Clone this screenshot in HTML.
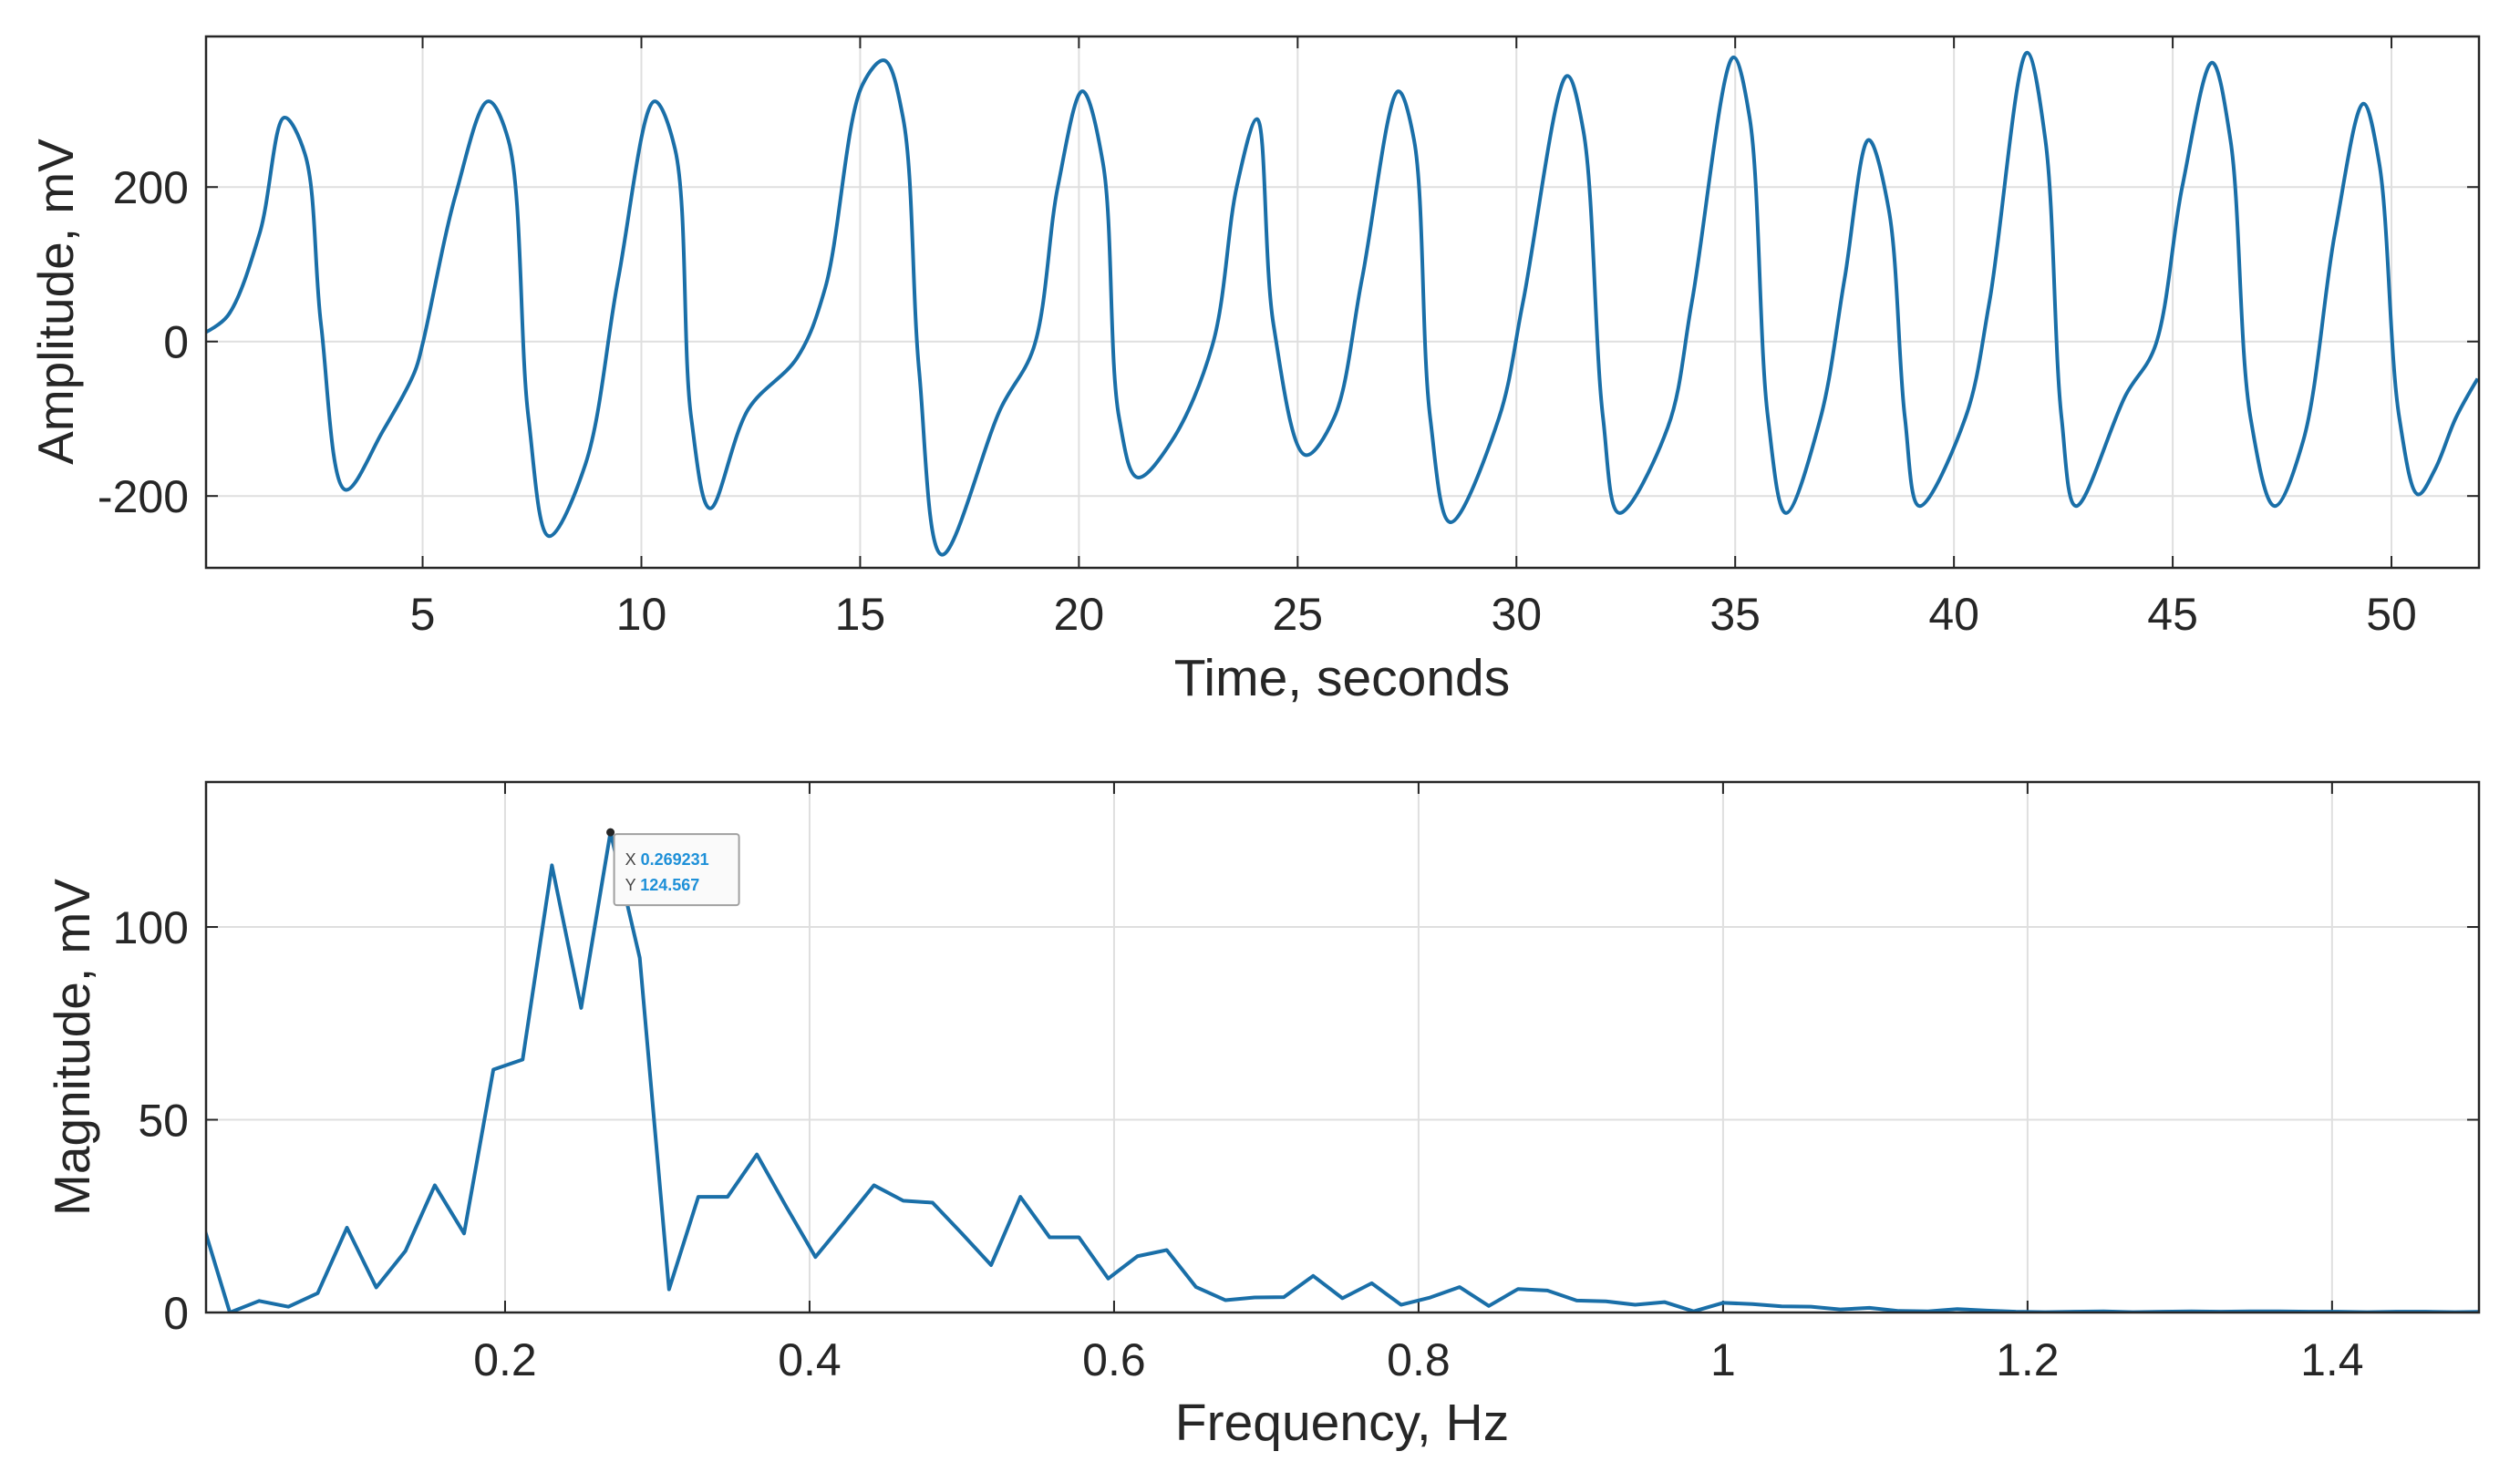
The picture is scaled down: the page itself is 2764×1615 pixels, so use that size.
<!DOCTYPE html>
<html><head><meta charset="utf-8"><style>
html,body{margin:0;padding:0;background:#fff;}
svg{display:block;}
text{font-family:"Liberation Sans",sans-serif;fill:#262626;}
</style></head><body>
<svg id="fig" width="2764" height="1615" viewBox="0 0 2764 1615" xmlns="http://www.w3.org/2000/svg"></svg>
<script>
// ---- Top chart data (time signal) ----
const timeS = [0.04,0.54,1.28,1.84,2.31,2.68,3.24,4.08,4.82,5.0,5.75,6.5,6.96,7.42,7.89,8.72,9.47,10.3,10.77,11.14,11.57,12.45,13.56,14.2,15.05,15.55,15.98,16.35,16.87,18.21,18.96,19.52,20.08,20.55,20.92,21.34,22.12,23.06,23.61,24.07,24.45,25.18,25.83,26.47,27.3,27.66,28.03,28.49,29.6,30.15,31.16,31.53,31.98,32.35,33.46,34.01,34.96,35.33,35.75,36.16,36.95,37.5,38.05,38.51,38.88,39.21,40.26,40.81,41.67,42.09,42.46,42.79,43.93,44.58,45.22,45.9,46.32,46.78,47.33,47.98,48.71,49.36,49.72,50.18,50.61,51.0,51.47,51.97];
const amplitude = [12,33,141,290,243,21,-192,-117,-39,-3,189,311,261,-99,-252,-159,81,311,249,-99,-216,-87,-21,69,332,364,290,-39,-276,-87,-9,201,324,231,-99,-176,-129,-3,201,288,21,-147,-99,81,324,261,-99,-234,-99,51,344,273,-99,-222,-111,51,368,290,-99,-222,-99,81,261,171,-99,-213,-99,51,374,261,-99,-213,-69,-9,201,361,261,-99,-213,-129,141,308,231,-99,-198,-165,-99,-48];
const topXTicks = [5,10,15,20,25,30,35,40,45,50];
const topYTicks = [-200,0,200];
// ---- Bottom chart data (spectrum), frequency = k/52 ----
const magnitude = [25,0,3,1.5,5,22,6.5,16,33,20.5,63,65.6,116,79,124.567,92,6,30,30,41,27.5,14.4,23.6,33,29,28.5,20.5,12.3,30,19.5,19.5,8.8,14.6,16.2,6.6,3.2,3.9,4,9.5,3.7,7.6,2,3.9,6.6,1.7,6.1,5.7,3.1,2.9,2,2.7,0.3,2.5,2.2,1.6,1.5,0.8,1.2,0.4,0.3,0.9,0.5,0.2,0.1,0.2,0.3,0.1,0.2,0.3,0.2,0.3,0.3,0.2,0.2,0.1,0.2,0.2,0.1,0.2];
const botXTicks = [0.2,0.4,0.6,0.8,1,1.2,1.4];
const botYTicks = [0,50,100];
const tipX = "0.269231", tipY = "124.567";

const NS="http://www.w3.org/2000/svg";
const svg=document.getElementById('fig');
function mk(tag,attrs,parent){const e=document.createElementNS(NS,tag);for(const k in attrs)e.setAttribute(k,attrs[k]);(parent||svg).appendChild(e);return e;}

function axes(cfg){
  const {L,R,T,B,xmin,xmax,ymin,ymax,xt,yt,name}=cfg;
  const sx=v=>L+(v-xmin)/(xmax-xmin)*(R-L);
  const sy=v=>B-(v-ymin)/(ymax-ymin)*(B-T);
  const g=mk('g',{});
  
  
  mk('rect',{x:L,y:T,width:R-L,height:B-T,fill:'#fff'},g);
  xt.forEach(v=>{const x=sx(v);
    const l=mk('line',{x1:x,x2:x,y1:T,y2:B,stroke:'#dfdfdf','stroke-width':2},g);
    
    
    mk('line',{x1:x,x2:x,y1:B,y2:B-13,stroke:'#262626','stroke-width':2},g);
    mk('line',{x1:x,x2:x,y1:T,y2:T+13,stroke:'#262626','stroke-width':2},g);
    const t=mk('text',{x:x,y:cfg.xtY,'font-size':50,'text-anchor':'middle'},g);t.textContent=String(v);
    
    
  });
  yt.forEach(v=>{const y=sy(v);
    const l=mk('line',{x1:L,x2:R,y1:y,y2:y,stroke:'#dfdfdf','stroke-width':2},g);
    
    
    mk('line',{x1:L,x2:L+13,y1:y,y2:y,stroke:'#262626','stroke-width':2},g);
    mk('line',{x1:R,x2:R-13,y1:y,y2:y,stroke:'#262626','stroke-width':2},g);
    const t=mk('text',{x:207,y:y+18,'font-size':50,'text-anchor':'end'},g);t.textContent=String(v);
    
    
  });
  const clip=mk('clipPath',{id:name+'clip'},g);mk('rect',{x:L,y:T,width:R-L,height:B-T},clip);
  return {sx,sy,g};
}
function box(c,L,R,T,B){mk('rect',{x:L,y:T,width:R-L,height:B-T,fill:'none',stroke:'#262626','stroke-width':2.5},c.g);}

// ---- Top chart ----
const tp={L:226,R:2719,T:40,B:623};
const A=axes({...tp,xmin:0.05,xmax:52,ymin:-293,ymax:395,xt:topXTicks,yt:topYTicks,name:'top',xtY:691});
{
  const P=timeS.map((t,i)=>[A.sx(t),A.sy(amplitude[i])]);
  // centripetal Catmull-Rom
  function dist(a,b){return Math.pow(Math.hypot(b[0]-a[0],b[1]-a[1])||1e-6,0.5);}
  let d='M'+P[0][0]+','+P[0][1];
  for(let i=0;i<P.length-1;i++){
    const p0=P[Math.max(0,i-1)],p1=P[i],p2=P[i+1],p3=P[Math.min(P.length-1,i+2)];
    const d1=dist(p0,p1),d2=dist(p1,p2),d3=dist(p2,p3);
    const c1=[],c2=[];
    for(let k=0;k<2;k++){
      c1[k]=(d1*d1*p2[k]-d2*d2*p0[k]+(2*d1*d1+3*d1*d2+d2*d2)*p1[k])/(3*d1*(d1+d2));
      c2[k]=(d3*d3*p1[k]-d2*d2*p3[k]+(2*d3*d3+3*d3*d2+d2*d2)*p2[k])/(3*d3*(d3+d2));
    }
    d+=` C${c1[0]},${c1[1]} ${c2[0]},${c2[1]} ${p2[0]},${p2[1]}`;
  }
  const path=mk('path',{d:d,fill:'none',stroke:'#1a6fa8','stroke-width':4,'clip-path':'url(#topclip)'},A.g);
  
  
}
box(A,tp.L,tp.R,tp.T,tp.B);
{const t=mk('text',{x:1472,y:763,'font-size':57,'text-anchor':'middle'});t.textContent='Time, seconds';

}
{const t=mk('text',{x:80,y:331,'font-size':55,'text-anchor':'middle',transform:'rotate(-90 80 331)'});t.textContent='Amplitude, mV';

}

// ---- Bottom chart ----
const bp={L:226,R:2719,T:858,B:1440};
const Bx=axes({...bp,xmin:0.0036,xmax:1.4965,ymin:0,ymax:137.6,xt:botXTicks,yt:botYTicks,name:'bottom',xtY:1509});
{
  const pts=magnitude.map((m,k)=>Bx.sx(k/52)+','+Bx.sy(m)).join(' ');
  const pl=mk('polyline',{points:pts,fill:'none',stroke:'#1a6fa8','stroke-width':4,'stroke-linejoin':'round','clip-path':'url(#bottomclip)'},Bx.g);
  
  
  const px=Bx.sx(14/52),py=Bx.sy(magnitude[14]);
  const dot=mk('circle',{cx:px,cy:py,r:4.5,fill:'#262626'});
  
  
  const tg=mk('g',{});
  
  
  mk('rect',{x:px+4,y:py+2,width:137,height:78,fill:'#fafafa',stroke:'#a0a0a0','stroke-width':2,rx:3},tg);
  const t1=mk('text',{x:px+16,y:py+36,'font-size':18},tg);
  t1.innerHTML='<tspan fill="#444">X </tspan><tspan fill="#1e90d8" font-weight="bold">'+tipX+'</tspan>';
  const t2=mk('text',{x:px+16,y:py+64,'font-size':18},tg);
  t2.innerHTML='<tspan fill="#444">Y </tspan><tspan fill="#1e90d8" font-weight="bold">'+tipY+'</tspan>';
}
box(Bx,bp.L,bp.R,bp.T,bp.B);
{const t=mk('text',{x:1472,y:1580,'font-size':57,'text-anchor':'middle'});t.textContent='Frequency, Hz';

}
{const t=mk('text',{x:98,y:1149,'font-size':55,'text-anchor':'middle',transform:'rotate(-90 98 1149)'});t.textContent='Magnitude, mV';

}
</script>
</body></html>
